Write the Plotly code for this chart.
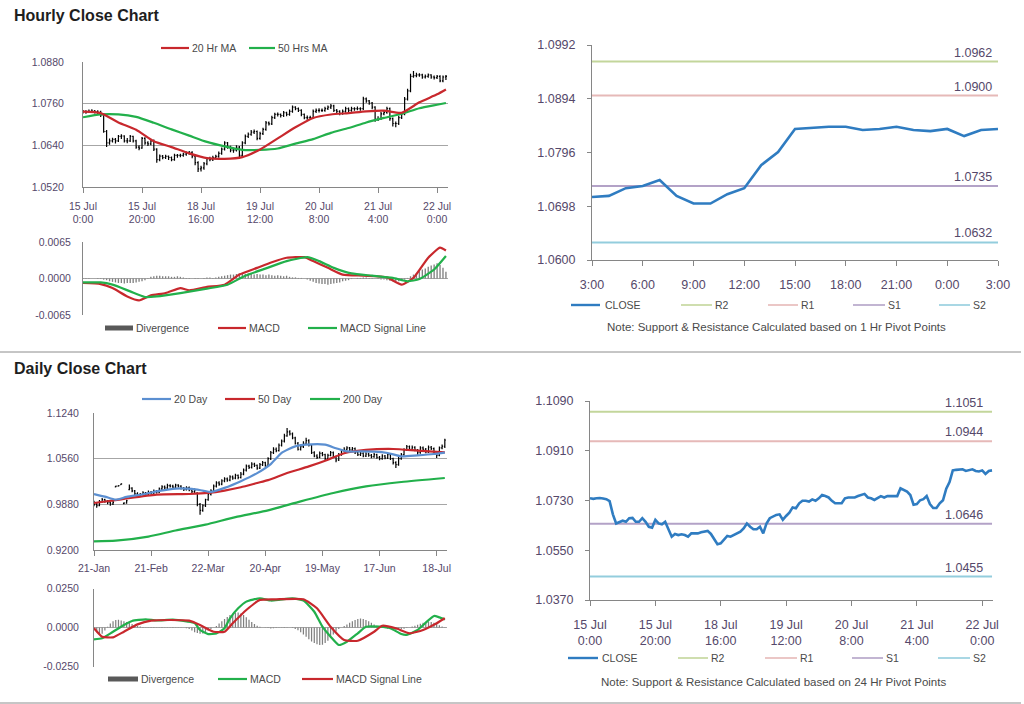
import plotly.graph_objects as go

# ---------------- DATA ----------------
# Hourly bars: 15 Jul 0:00 -> 22 Jul 3:00 (124 hourly bars)
hourly_tick_pos = [0, 20, 40, 60, 80, 100, 120]
hourly_tick_text = ["15 Jul<br>0:00", "15 Jul<br>20:00", "18 Jul<br>16:00", "19 Jul<br>12:00",
                    "20 Jul<br>8:00", "21 Jul<br>4:00", "22 Jul<br>0:00"]

hourly_open = [
    1.0736, 1.0738, 1.0736, 1.0738, 1.0739, 1.0737, 1.0735, 1.0728, 1.0680, 1.0647,
    1.0653, 1.0657, 1.0653, 1.0666, 1.0667, 1.0653, 1.0653, 1.0666, 1.0653, 1.0635,
    1.0632, 1.0660, 1.0647, 1.0644, 1.0653, 1.0629, 1.0599, 1.0609, 1.0605, 1.0608,
    1.0605, 1.0599, 1.0611, 1.0611, 1.0611, 1.0615, 1.0617, 1.0620, 1.0609, 1.0590,
    1.0572, 1.0575, 1.0587, 1.0602, 1.0599, 1.0605, 1.0608, 1.0617, 1.0629, 1.0647,
    1.0635, 1.0626, 1.0626, 1.0635, 1.0611, 1.0647, 1.0666, 1.0672, 1.0678, 1.0680,
    1.0660, 1.0674, 1.0686, 1.0705, 1.0702, 1.0720, 1.0729, 1.0729, 1.0726, 1.0734,
    1.0729, 1.0738, 1.0750, 1.0746, 1.0741, 1.0729, 1.0720, 1.0720, 1.0720, 1.0738,
    1.0741, 1.0741, 1.0741, 1.0746, 1.0750, 1.0754, 1.0741, 1.0738, 1.0732, 1.0738,
    1.0746, 1.0741, 1.0746, 1.0746, 1.0746, 1.0746, 1.0774, 1.0768, 1.0762, 1.0750,
    1.0715, 1.0717, 1.0731, 1.0735, 1.0746, 1.0717, 1.0703, 1.0703, 1.0720, 1.0731,
    1.0773, 1.0797, 1.0839, 1.0841, 1.0843, 1.0843, 1.0837, 1.0839, 1.0843, 1.0837,
    1.0835, 1.0839, 1.0826, 1.0837]
hourly_high = [
    1.0742, 1.0741, 1.0743, 1.0744, 1.0742, 1.0741, 1.0740, 1.0731, 1.0684, 1.0660,
    1.0662, 1.0661, 1.0670, 1.0672, 1.0669, 1.0661, 1.0670, 1.0668, 1.0656, 1.0640,
    1.0664, 1.0663, 1.0652, 1.0658, 1.0657, 1.0632, 1.0614, 1.0612, 1.0613, 1.0611,
    1.0608, 1.0616, 1.0615, 1.0616, 1.0619, 1.0622, 1.0624, 1.0623, 1.0612, 1.0594,
    1.0581, 1.0592, 1.0606, 1.0607, 1.0610, 1.0613, 1.0622, 1.0634, 1.0652, 1.0650,
    1.0639, 1.0633, 1.0640, 1.0638, 1.0652, 1.0671, 1.0677, 1.0684, 1.0686, 1.0683,
    1.0679, 1.0691, 1.0710, 1.0709, 1.0725, 1.0734, 1.0735, 1.0732, 1.0739, 1.0737,
    1.0743, 1.0755, 1.0753, 1.0749, 1.0744, 1.0732, 1.0726, 1.0725, 1.0743, 1.0746,
    1.0747, 1.0746, 1.0751, 1.0755, 1.0759, 1.0757, 1.0745, 1.0741, 1.0743, 1.0751,
    1.0749, 1.0751, 1.0750, 1.0752, 1.0750, 1.0780, 1.0778, 1.0771, 1.0765, 1.0753,
    1.0724, 1.0736, 1.0740, 1.0751, 1.0749, 1.0720, 1.0709, 1.0725, 1.0736, 1.0779,
    1.0803, 1.0846, 1.0854, 1.0849, 1.0848, 1.0846, 1.0844, 1.0847, 1.0845, 1.0841,
    1.0843, 1.0842, 1.0841, 1.0843]
hourly_low = [
    1.0732, 1.0731, 1.0733, 1.0734, 1.0732, 1.0730, 1.0722, 1.0676, 1.0635, 1.0642,
    1.0648, 1.0645, 1.0650, 1.0658, 1.0648, 1.0646, 1.0650, 1.0648, 1.0630, 1.0626,
    1.0630, 1.0642, 1.0638, 1.0640, 1.0624, 1.0590, 1.0594, 1.0600, 1.0601, 1.0598,
    1.0594, 1.0596, 1.0604, 1.0606, 1.0607, 1.0610, 1.0613, 1.0603, 1.0583, 1.0563,
    1.0565, 1.0570, 1.0583, 1.0594, 1.0595, 1.0600, 1.0604, 1.0613, 1.0625, 1.0630,
    1.0620, 1.0619, 1.0622, 1.0606, 1.0608, 1.0643, 1.0661, 1.0668, 1.0673, 1.0655,
    1.0656, 1.0670, 1.0682, 1.0697, 1.0699, 1.0716, 1.0723, 1.0720, 1.0722, 1.0724,
    1.0725, 1.0734, 1.0741, 1.0736, 1.0724, 1.0715, 1.0714, 1.0715, 1.0717, 1.0733,
    1.0735, 1.0736, 1.0737, 1.0742, 1.0745, 1.0736, 1.0733, 1.0727, 1.0728, 1.0734,
    1.0736, 1.0737, 1.0740, 1.0741, 1.0740, 1.0742, 1.0763, 1.0757, 1.0744, 1.0708,
    1.0710, 1.0713, 1.0727, 1.0731, 1.0711, 1.0694, 1.0692, 1.0699, 1.0716, 1.0727,
    1.0769, 1.0793, 1.0835, 1.0836, 1.0838, 1.0832, 1.0833, 1.0835, 1.0832, 1.0830,
    1.0831, 1.0822, 1.0822, 1.0828]
hourly_close = [
    1.0738, 1.0736, 1.0738, 1.0739, 1.0737, 1.0735, 1.0728, 1.0680, 1.0647, 1.0653,
    1.0657, 1.0653, 1.0666, 1.0667, 1.0653, 1.0653, 1.0666, 1.0653, 1.0635, 1.0632,
    1.0660, 1.0647, 1.0644, 1.0653, 1.0629, 1.0599, 1.0609, 1.0605, 1.0608, 1.0605,
    1.0599, 1.0611, 1.0611, 1.0611, 1.0615, 1.0617, 1.0620, 1.0609, 1.0590, 1.0572,
    1.0575, 1.0587, 1.0602, 1.0599, 1.0605, 1.0608, 1.0617, 1.0629, 1.0647, 1.0635,
    1.0626, 1.0626, 1.0635, 1.0611, 1.0647, 1.0666, 1.0672, 1.0678, 1.0680, 1.0660,
    1.0674, 1.0686, 1.0705, 1.0702, 1.0720, 1.0729, 1.0729, 1.0726, 1.0734, 1.0729,
    1.0738, 1.0750, 1.0746, 1.0741, 1.0729, 1.0720, 1.0720, 1.0720, 1.0738, 1.0741,
    1.0741, 1.0741, 1.0746, 1.0750, 1.0754, 1.0741, 1.0738, 1.0732, 1.0738, 1.0746,
    1.0741, 1.0746, 1.0746, 1.0746, 1.0746, 1.0774, 1.0768, 1.0762, 1.0750, 1.0715,
    1.0717, 1.0731, 1.0735, 1.0746, 1.0717, 1.0703, 1.0703, 1.0720, 1.0731, 1.0773,
    1.0797, 1.0839, 1.0841, 1.0843, 1.0843, 1.0837, 1.0839, 1.0843, 1.0837, 1.0835,
    1.0839, 1.0826, 1.0837, 1.0839]

hourly_ma_pos = [0, 6, 12, 18, 24, 30, 36, 42, 48, 54, 60, 66, 72, 78, 84, 90, 96, 102, 108, 114, 120, 123]
hourly_ma20 = [1.0737, 1.0733, 1.0706, 1.0685, 1.0652, 1.0635, 1.0617, 1.0603, 1.0601, 1.0606, 1.0628,
               1.0660, 1.0692, 1.0719, 1.0729, 1.0733, 1.0738, 1.0740, 1.0734, 1.0764, 1.0787, 1.0801]
hourly_ma50 = [1.0721, 1.0729, 1.0729, 1.0722, 1.0705, 1.0686, 1.0668, 1.0650, 1.0637, 1.0627, 1.0627,
               1.0631, 1.0645, 1.0658, 1.0676, 1.0690, 1.0706, 1.0719, 1.0731, 1.0747, 1.0757, 1.0762]

hourly_divergence = [
    -0.0001, -0.0001, -0.0001, 0.0000, 0.0000, -0.0001, -0.0001, -0.0002, -0.0003,
    -0.0005, -0.0006, -0.0007, -0.0008, -0.0008, -0.0009, -0.0008, -0.0008, -0.0008, -0.0007, -0.0006, -0.0005, -0.0003,
    0.0001, 0.0003, 0.0004, 0.0005, 0.0005, 0.0004, 0.0004, 0.0004, 0.0003, 0.0003, 0.0004, 0.0003, 0.0002, 0.0001,
    -0.0001, 0.0000, 0.0001, 0.0001, 0.0000, 0.0001, 0.0002, 0.0002, 0.0001, 0.0002, 0.0003, 0.0004, 0.0005,
    0.0006, 0.0007, 0.0007, 0.0008, 0.0009, 0.0009, 0.0008, 0.0009, 0.0008, 0.0007, 0.0008, 0.0007, 0.0007,
    0.0006, 0.0007, 0.0006, 0.0005, 0.0006, 0.0005, 0.0004, 0.0005, 0.0003, 0.0002, 0.0002,
    0.0001, 0.0001, 0.0000, -0.0002, -0.0004, -0.0006,
    -0.0008, -0.0009, -0.0010, -0.0010, -0.0011, -0.0010, -0.0009, -0.0008, -0.0007, -0.0005, -0.0004, -0.0003,
    -0.0001, 0.0000, 0.0001, 0.0001, 0.0002, 0.0002, 0.0001, 0.0001, 0.0000, -0.0001, -0.0002, -0.0002,
    -0.0003, -0.0004, -0.0005, -0.0006, -0.0005, -0.0004, -0.0002, 0.0001, 0.0004,
    0.0007, 0.0010, 0.0013, 0.0016, 0.0018, 0.0021, 0.0023, 0.0025, 0.0027, 0.0024, 0.0019, 0.0012]
hourly_macd_pos = [0, 6, 10, 15, 19, 23, 28, 33, 36, 42, 48, 53, 59, 64, 69, 75, 78, 83, 88, 95, 103, 108, 112, 117, 121, 123]
hourly_macd = [-0.0008, -0.0010, -0.0017, -0.0032, -0.0039, -0.0030, -0.0026, -0.0017, -0.0021, -0.0015,
               -0.0011, 0.0007, 0.0019, 0.0029, 0.0037, 0.0038, 0.0031, 0.0019, 0.0007, 0.0005,
               0.0002, -0.0011, 0.0001, 0.0037, 0.0055, 0.0050]
hourly_signal_pos = [0, 6, 10, 16, 21, 25, 33, 42, 49, 55, 62, 69, 76, 80, 85, 91, 98, 105, 110, 114, 119, 123]
hourly_signal = [-0.0007, -0.0007, -0.0011, -0.0023, -0.0033, -0.0032, -0.0026, -0.0018, -0.0011, 0.0005,
                 0.0018, 0.0031, 0.0038, 0.0031, 0.0019, 0.0009, 0.0005, 0.0001, -0.0005, -0.0001,
                 0.0016, 0.0040]

# Last 24 hours (1 Hr pivots)
last_day_tick_text = ["3:00", "6:00", "9:00", "12:00", "15:00", "18:00", "21:00", "0:00", "3:00"]
pivot_names = ["R2", "R1", "S1", "S2"]
pivot_colors = ["#c3d69b", "#e6b9b8", "#b3a2c7", "#93cddd"]
hourly_pivots = [1.0962, 1.0900, 1.0735, 1.0632]
daily_pivots = [1.1051, 1.0944, 1.0646, 1.0455]

# Daily bars
daily_tick_pos = [0, 21, 42, 63, 84, 105, 126]
daily_tick_text = ["21-Jan", "21-Feb", "22-Mar", "20-Apr", "19-May", "17-Jun", "18-Jul"]
daily_open = [
    0.9900, 0.9880, 0.9860, 0.9920, 0.9950, 0.9930, 0.9905, 0.9885, 1.0140, 1.0150,
    1.0175, 0.9890, 0.9900, 1.0100, 1.0120, 1.0080, 1.0040, 1.0010, 1.0030, 1.0050,
    1.0020, 1.0060, 1.0045, 1.0075, 1.0060, 1.0110, 1.0140, 1.0125, 1.0160, 1.0150,
    1.0135, 1.0165, 1.0150, 1.0120, 1.0100, 1.0130, 1.0095, 1.0070, 1.0050, 0.9880,
    0.9790, 0.9860, 0.9950, 1.0030, 1.0080, 1.0150, 1.0200, 1.0180, 1.0230, 1.0260,
    1.0240, 1.0290, 1.0270, 1.0310, 1.0280, 1.0330, 1.0390, 1.0450, 1.0430, 1.0480,
    1.0460, 1.0420, 1.0470, 1.0500, 1.0460, 1.0560, 1.0650, 1.0700, 1.0680, 1.0760,
    1.0820, 1.0900, 1.0960, 1.0930, 1.0870, 1.0790, 1.0700, 1.0740, 1.0790, 1.0830,
    1.0760, 1.0650, 1.0600, 1.0580, 1.0640, 1.0620, 1.0560, 1.0610, 1.0650, 1.0590,
    1.0540, 1.0620, 1.0680, 1.0700, 1.0720, 1.0690, 1.0710, 1.0650, 1.0620, 1.0640,
    1.0600, 1.0630, 1.0610, 1.0590, 1.0620, 1.0580, 1.0560, 1.0600, 1.0570, 1.0620,
    1.0560, 1.0500, 1.0470, 1.0560, 1.0620, 1.0690, 1.0740, 1.0700, 1.0730, 1.0690,
    1.0650, 1.0720, 1.0700, 1.0660, 1.0730, 1.0710, 1.0650, 1.0610, 1.0720, 1.0745]
daily_high = [
    0.9935, 0.9900, 0.9945, 0.9975, 0.9965, 0.9945, 0.9920, 0.9930, 1.0155, 1.0165,
    1.0195, 0.9910, 0.9950, 1.0175, 1.0135, 1.0095, 1.0060, 1.0050, 1.0075, 1.0065,
    1.0085, 1.0080, 1.0100, 1.0095, 1.0130, 1.0165, 1.0160, 1.0185, 1.0180, 1.0170,
    1.0185, 1.0180, 1.0165, 1.0140, 1.0150, 1.0145, 1.0110, 1.0115, 1.0060, 0.9900,
    0.9880, 0.9965, 1.0050, 1.0105, 1.0175, 1.0225, 1.0225, 1.0255, 1.0285, 1.0280,
    1.0315, 1.0310, 1.0335, 1.0325, 1.0360, 1.0415, 1.0475, 1.0470, 1.0505, 1.0500,
    1.0475, 1.0495, 1.0525, 1.0515, 1.0580, 1.0675, 1.0730, 1.0725, 1.0785, 1.0845,
    1.0930, 1.1015, 1.0985, 1.0950, 1.0885, 1.0810, 1.0770, 1.0820, 1.0870, 1.0850,
    1.0775, 1.0670, 1.0625, 1.0665, 1.0660, 1.0635, 1.0635, 1.0675, 1.0665, 1.0605,
    1.0645, 1.0705, 1.0730, 1.0745, 1.0735, 1.0735, 1.0725, 1.0670, 1.0665, 1.0655,
    1.0655, 1.0650, 1.0630, 1.0645, 1.0635, 1.0600, 1.0625, 1.0615, 1.0645, 1.0635,
    1.0575, 1.0520, 1.0585, 1.0645, 1.0715, 1.0765, 1.0755, 1.0755, 1.0745, 1.0705,
    1.0745, 1.0740, 1.0720, 1.0755, 1.0750, 1.0725, 1.0670, 1.0740, 1.0770, 1.0855]
daily_low = [
    0.9850, 0.9830, 0.9850, 0.9905, 0.9905, 0.9880, 0.9860, 0.9870, 1.0135, 1.0145,
    1.0170, 0.9880, 0.9890, 1.0090, 1.0060, 1.0020, 0.9990, 0.9995, 1.0015, 1.0000,
    1.0005, 1.0025, 1.0030, 1.0040, 1.0050, 1.0095, 1.0105, 1.0110, 1.0130, 1.0115,
    1.0120, 1.0130, 1.0100, 1.0080, 1.0085, 1.0075, 1.0045, 1.0040, 0.9850, 0.9725,
    0.9770, 0.9840, 0.9935, 1.0010, 1.0065, 1.0130, 1.0155, 1.0165, 1.0210, 1.0215,
    1.0225, 1.0245, 1.0255, 1.0255, 1.0265, 1.0315, 1.0370, 1.0405, 1.0415, 1.0435,
    1.0395, 1.0405, 1.0450, 1.0440, 1.0445, 1.0540, 1.0630, 1.0655, 1.0665, 1.0740,
    1.0800, 1.0885, 1.0905, 1.0850, 1.0770, 1.0680, 1.0680, 1.0720, 1.0770, 1.0740,
    1.0630, 1.0580, 1.0555, 1.0565, 1.0595, 1.0535, 1.0545, 1.0595, 1.0570, 1.0505,
    1.0525, 1.0605, 1.0660, 1.0680, 1.0670, 1.0670, 1.0630, 1.0600, 1.0600, 1.0580,
    1.0585, 1.0590, 1.0565, 1.0575, 1.0560, 1.0535, 1.0545, 1.0550, 1.0555, 1.0540,
    1.0475, 1.0420, 1.0455, 1.0545, 1.0605, 1.0675, 1.0680, 1.0685, 1.0670, 1.0620,
    1.0635, 1.0680, 1.0640, 1.0645, 1.0690, 1.0630, 1.0570, 1.0595, 1.0700, 1.0720]
daily_close = [
    0.9880, 0.9860, 0.9920, 0.9950, 0.9930, 0.9905, 0.9885, 0.9910, 1.0150, 1.0160,
    1.0185, 0.9900, 0.9935, 1.0120, 1.0080, 1.0040, 1.0010, 1.0030, 1.0050, 1.0020,
    1.0060, 1.0045, 1.0075, 1.0060, 1.0110, 1.0140, 1.0125, 1.0160, 1.0150, 1.0135,
    1.0165, 1.0150, 1.0120, 1.0100, 1.0130, 1.0095, 1.0070, 1.0090, 0.9880, 0.9790,
    0.9860, 0.9950, 1.0030, 1.0080, 1.0150, 1.0200, 1.0180, 1.0230, 1.0260, 1.0240,
    1.0290, 1.0270, 1.0310, 1.0280, 1.0330, 1.0390, 1.0450, 1.0430, 1.0480, 1.0460,
    1.0420, 1.0470, 1.0500, 1.0460, 1.0560, 1.0650, 1.0700, 1.0680, 1.0760, 1.0820,
    1.0900, 1.0960, 1.0930, 1.0870, 1.0790, 1.0700, 1.0740, 1.0790, 1.0830, 1.0760,
    1.0650, 1.0600, 1.0580, 1.0640, 1.0620, 1.0560, 1.0610, 1.0650, 1.0590, 1.0540,
    1.0620, 1.0680, 1.0700, 1.0720, 1.0690, 1.0710, 1.0650, 1.0620, 1.0640, 1.0600,
    1.0630, 1.0610, 1.0590, 1.0620, 1.0580, 1.0560, 1.0600, 1.0570, 1.0620, 1.0560,
    1.0500, 1.0470, 1.0560, 1.0620, 1.0690, 1.0740, 1.0700, 1.0730, 1.0690, 1.0650,
    1.0720, 1.0700, 1.0660, 1.0730, 1.0710, 1.0650, 1.0610, 1.0720, 1.0745, 1.0835]

daily_ma20_pos = [0, 4, 8, 12, 18, 24, 30, 36, 40, 43, 48, 54, 60, 65, 69, 74, 78, 85, 89, 93, 98, 103, 108, 113, 119, 125, 129]
daily_ma20 = [1.0034, 0.9995, 0.9950, 0.9990, 1.0030, 1.0080, 1.0115, 1.0110, 1.0085, 1.0065, 1.0125, 1.0225, 1.0345,
              1.0480, 1.0645, 1.0743, 1.0768, 1.0768, 1.0715, 1.0668, 1.0668, 1.0665, 1.0644, 1.0594, 1.0610, 1.0630, 1.0650]
daily_ma50_pos = [0, 10, 23, 35, 42, 48, 54, 60, 64, 71, 79, 86, 92, 100, 110, 119, 129]
daily_ma50 = [0.9900, 0.9955, 1.0024, 1.0034, 1.0050, 1.0085, 1.0135, 1.0198, 1.0240, 1.0346, 1.0445, 1.0545,
              1.0640, 1.0690, 1.0704, 1.0680, 1.0655]
daily_ma200_pos = [0, 8, 20, 30, 41, 52, 64, 76, 88, 100, 113, 129]
daily_ma200 = [0.9329, 0.9339, 0.9400, 0.9490, 0.9577, 0.9690, 0.9790, 0.9924, 1.0049, 1.0147, 1.0213, 1.0272]

daily_divergence = [
    -0.0010, -0.0030, -0.0045, -0.0040, -0.0020,
    0.0005, 0.0025, 0.0040, 0.0048, 0.0050,
    0.0045, 0.0040, 0.0035, 0.0030, 0.0022, 0.0015, 0.0010, 0.0006,
    0.0004, 0.0002, -0.0002, -0.0004, -0.0003, -0.0001, 0.0002, 0.0003, 0.0002, 0.0001, -0.0002, -0.0003,
    -0.0002, -0.0001, 0.0001, 0.0000, -0.0005, -0.0010,
    -0.0020, -0.0030, -0.0036, -0.0040, -0.0038, -0.0030, -0.0020, -0.0010, 0.0000, 0.0010,
    0.0025, 0.0040, 0.0055, 0.0068, 0.0080, 0.0088, 0.0095, 0.0096, 0.0090, 0.0080, 0.0065, 0.0050, 0.0035,
    0.0022, 0.0012,
    0.0005, 0.0000, -0.0002, -0.0004, -0.0006, -0.0005, -0.0003, -0.0001, 0.0002, 0.0003, 0.0002, 0.0000,
    -0.0004, -0.0010, -0.0018,
    -0.0030, -0.0045, -0.0060, -0.0075, -0.0090, -0.0100, -0.0108, -0.0112, -0.0110, -0.0100, -0.0085,
    -0.0065, -0.0045,
    -0.0025, -0.0010, 0.0000, 0.0010, 0.0020, 0.0030, 0.0040,
    0.0048, 0.0055, 0.0058, 0.0055, 0.0048, 0.0040, 0.0030, 0.0020, 0.0012, 0.0005, 0.0000,
    -0.0004, -0.0008, -0.0012, -0.0015, -0.0018, -0.0016, -0.0012, -0.0008, -0.0004,
    0.0000, 0.0006, 0.0012, 0.0018, 0.0024, 0.0030, 0.0035, 0.0038, 0.0036, 0.0030, 0.0022, 0.0014,
    0.0006, -0.0002]
daily_macd_pos = [0, 3, 7, 11, 14, 19, 23, 29, 34, 37, 39, 42, 45, 48, 50, 53, 56, 61, 65, 68, 73, 77, 81, 84,
                  87, 90, 93, 97, 100, 105, 109, 113, 115, 119, 122, 125, 127, 129]
daily_macd = [-0.0076, -0.0069, -0.0027, 0.0016, 0.0042, 0.0052, 0.0045, 0.0050, 0.0039, 0.0029,
              -0.0016, -0.0042, -0.0038, -0.0005, 0.0059, 0.0123, 0.0166, 0.0187, 0.0173, 0.0177,
              0.0187, 0.0173, 0.0101, 0.0005, -0.0059, -0.0112, -0.0091, -0.0037, 0.0005, 0.0005,
              -0.0005, -0.0042, -0.0047, -0.0016, 0.0031, 0.0074, 0.0065, 0.0052]
daily_signal_pos = [0, 3, 7, 11, 16, 21, 28, 35, 39, 44, 48, 51, 56, 61, 67, 77, 82, 87, 92, 97, 103, 106,
                    111, 116, 121, 126, 129]
daily_signal = [-0.0005, -0.0059, -0.0063, -0.0027, 0.0020, 0.0044, 0.0048, 0.0044, 0.0016, -0.0027,
                -0.0027, 0.0027, 0.0112, 0.0177, 0.0181, 0.0181, 0.0123, 0.0005, -0.0080, -0.0085,
                -0.0027, 0.0011, -0.0005, -0.0037, -0.0016, 0.0027, 0.0059]

# ---------------- STYLE / LAYOUT HELPERS ----------------
W, H = 1024, 704
FONT = "Liberation Sans, Arial, sans-serif"
TICKC = "#55486a"
TXTC = "#4a4a4a"
GRID = "#a6a6a6"
AXC = "#868686"
RED = "#c8282d"
GREEN = "#22b04b"
BLUE = "#5b8fd1"
CLOSE_BLUE = "#2f7cc1"
DIVC = "#7f7f7f"


def fx(p):
    return p / W


def fy(p):
    return 1 - p / H


fig = go.Figure()

h_idx = list(range(len(hourly_close)))
d_idx = list(range(len(daily_close)))
n_last = len(last_day_tick_text) * 3 - 2  # 25 hourly points in last 24h panel
last_close = hourly_close[-n_last:]
last_idx = list(range(len(last_close)))

ohlc_style = dict(increasing=dict(line=dict(color="black", width=1.2)),
                  decreasing=dict(line=dict(color="black", width=1.2)),
                  tickwidth=0.35, showlegend=False, hoverinfo="skip")

# Panel 1: hourly OHLC + MAs
fig.add_trace(go.Ohlc(x=h_idx, open=hourly_open, high=hourly_high, low=hourly_low, close=hourly_close,
                      xaxis="x", yaxis="y", **ohlc_style))
fig.add_trace(go.Scatter(x=hourly_ma_pos, y=hourly_ma50, mode="lines", xaxis="x", yaxis="y",
                         line=dict(color=GREEN, width=2.2, shape="spline", smoothing=0.6), showlegend=False))
fig.add_trace(go.Scatter(x=hourly_ma_pos, y=hourly_ma20, mode="lines", xaxis="x", yaxis="y",
                         line=dict(color=RED, width=2.2, shape="spline", smoothing=0.6), showlegend=False))

# Panel 2: hourly MACD
fig.add_trace(go.Bar(x=h_idx, y=hourly_divergence, width=0.45, marker=dict(color=DIVC, line=dict(width=0)),
                     xaxis="x2", yaxis="y2", showlegend=False))
fig.add_trace(go.Scatter(x=hourly_macd_pos, y=hourly_macd, mode="lines", xaxis="x2", yaxis="y2",
                         line=dict(color=RED, width=2.2, shape="spline", smoothing=0.5), showlegend=False))
fig.add_trace(go.Scatter(x=hourly_signal_pos, y=hourly_signal, mode="lines", xaxis="x2", yaxis="y2",
                         line=dict(color=GREEN, width=2.2, shape="spline", smoothing=0.5), showlegend=False))

# Panel 3: last 24h close with 1 Hr pivots
for v, c in zip(hourly_pivots, pivot_colors):
    fig.add_trace(go.Scatter(x=[last_idx[0], last_idx[-1]], y=[v, v], mode="lines", xaxis="x3", yaxis="y3",
                             line=dict(color=c, width=2), showlegend=False))
fig.add_trace(go.Scatter(x=last_idx, y=last_close, mode="lines", xaxis="x3", yaxis="y3",
                         line=dict(color=CLOSE_BLUE, width=2.6), showlegend=False))

# Panel 4: daily OHLC + MAs
fig.add_trace(go.Ohlc(x=d_idx, open=daily_open, high=daily_high, low=daily_low, close=daily_close,
                      xaxis="x4", yaxis="y4", **ohlc_style))
fig.add_trace(go.Scatter(x=daily_ma200_pos, y=daily_ma200, mode="lines", xaxis="x4", yaxis="y4",
                         line=dict(color=GREEN, width=2.2, shape="spline", smoothing=0.6), showlegend=False))
fig.add_trace(go.Scatter(x=daily_ma50_pos, y=daily_ma50, mode="lines", xaxis="x4", yaxis="y4",
                         line=dict(color=RED, width=2.2, shape="spline", smoothing=0.6), showlegend=False))
fig.add_trace(go.Scatter(x=daily_ma20_pos, y=daily_ma20, mode="lines", xaxis="x4", yaxis="y4",
                         line=dict(color=BLUE, width=2.2, shape="spline", smoothing=0.6), showlegend=False))

# Panel 5: daily MACD
fig.add_trace(go.Bar(x=d_idx, y=daily_divergence, width=0.45, marker=dict(color=DIVC, line=dict(width=0)),
                     xaxis="x5", yaxis="y5", showlegend=False))
fig.add_trace(go.Scatter(x=daily_macd_pos, y=daily_macd, mode="lines", xaxis="x5", yaxis="y5",
                         line=dict(color=GREEN, width=2.2, shape="spline", smoothing=0.5), showlegend=False))
fig.add_trace(go.Scatter(x=daily_signal_pos, y=daily_signal, mode="lines", xaxis="x5", yaxis="y5",
                         line=dict(color=RED, width=2.2, shape="spline", smoothing=0.5), showlegend=False))

# Panel 6: hourly close with 24 Hr pivots
for v, c in zip(daily_pivots, pivot_colors):
    fig.add_trace(go.Scatter(x=[h_idx[0], h_idx[-1]], y=[v, v], mode="lines", xaxis="x6", yaxis="y6",
                             line=dict(color=c, width=2), showlegend=False))
fig.add_trace(go.Scatter(x=h_idx, y=hourly_close, mode="lines", xaxis="x6", yaxis="y6",
                         line=dict(color=CLOSE_BLUE, width=2.6), showlegend=False))

# ---------------- AXES ----------------
small_tick = dict(family=FONT, size=10.5, color=TICKC)
big_tick = dict(family=FONT, size=12.5, color=TICKC)


def xa(dom, rng, anchor, **kw):
    d = dict(domain=[fx(dom[0]), fx(dom[1])], range=rng, anchor=anchor, showgrid=False, zeroline=False,
             showline=True, linecolor=AXC, linewidth=1, fixedrange=True, automargin=False,
             rangeslider=dict(visible=False))
    d.update(kw)
    return d


def ya(dom, rng, anchor, **kw):
    d = dict(domain=[fy(dom[1]), fy(dom[0])], range=rng, anchor=anchor, zeroline=False,
             showline=True, linecolor=AXC, linewidth=1, fixedrange=True, automargin=False)
    d.update(kw)
    return d


layout = dict(
    width=W, height=H, autosize=False,
    margin=dict(l=0, r=0, t=0, b=0, pad=0, autoexpand=False),
    paper_bgcolor="white", plot_bgcolor="white", showlegend=False,
    font=dict(family=FONT, color=TXTC), barmode="overlay",
)

# Panel 1
layout["xaxis"] = xa((83, 448), [0, 123.7], "y", tickmode="array", tickvals=hourly_tick_pos,
                     ticktext=hourly_tick_text, ticks="outside", ticklen=5, tickcolor=AXC,
                     tickfont=small_tick, ticklabelstandoff=4)
layout["yaxis"] = ya((62, 187), [1.0520, 1.08802], "x", tickmode="linear", tick0=1.0520, dtick=0.012,
                     tickformat=".4f", showgrid=True, gridcolor=GRID, ticks="", tickfont=small_tick,
                     ticklabelstandoff=16)
# Panel 2
layout["xaxis2"] = xa((83, 448), [0, 123.7], "y2", showticklabels=False, ticks="", showline=False)
layout["yaxis2"] = ya((242, 315), [-0.00651, 0.00651], "x2", tickmode="array",
                      tickvals=[-0.0065, 0, 0.0065], ticktext=["-0.0065", "0.0000", "0.0065"],
                      showgrid=True, gridcolor=GRID, ticks="", tickfont=small_tick, ticklabelstandoff=9)
# Panel 3
layout["xaxis3"] = xa((592, 998), [0, 24], "y3", tickmode="array", tickvals=list(range(0, 25, 3)),
                      ticktext=last_day_tick_text, ticks="outside", ticklen=5, tickcolor=AXC,
                      tickfont=big_tick, ticklabelstandoff=8)
layout["yaxis3"] = ya((45, 260), [1.0600, 1.09921], "x3", tickmode="linear", tick0=1.0600, dtick=0.0098,
                      tickformat=".4f", showgrid=False, ticks="outside", ticklen=4, tickcolor=AXC,
                      tickfont=big_tick, ticklabelstandoff=9)
# Panel 4
layout["xaxis4"] = xa((94, 447), [0, 129.8], "y4", tickmode="array", tickvals=daily_tick_pos,
                      ticktext=daily_tick_text, ticks="outside", ticklen=5, tickcolor=AXC,
                      tickfont=small_tick, ticklabelstandoff=3)
layout["yaxis4"] = ya((413, 550), [0.9200, 1.12402], "x4", tickmode="linear", tick0=0.92, dtick=0.068,
                      tickformat=".4f", showgrid=True, gridcolor=GRID, ticks="", tickfont=small_tick,
                      ticklabelstandoff=12)
# Panel 5
layout["xaxis5"] = xa((94, 447), [0, 129.8], "y5", showticklabels=False, ticks="", showline=False)
layout["yaxis5"] = ya((588.5, 666.5), [-0.02501, 0.02501], "x5", tickmode="array",
                      tickvals=[-0.025, 0, 0.025], ticktext=["-0.0250", "0.0000", "0.0250"],
                      showgrid=True, gridcolor=GRID, ticks="", tickfont=small_tick, ticklabelstandoff=12)
# Panel 6
layout["xaxis6"] = xa((590, 993), [0, 123.3], "y6", tickmode="array", tickvals=hourly_tick_pos,
                      ticktext=hourly_tick_text, ticks="outside", ticklen=5, tickcolor=AXC,
                      tickfont=big_tick, ticklabelstandoff=8)
layout["yaxis6"] = ya((401, 600), [1.0370, 1.10901], "x6", tickmode="linear", tick0=1.037, dtick=0.018,
                      tickformat=".4f", showgrid=False, ticks="outside", ticklen=4, tickcolor=AXC,
                      tickfont=big_tick, ticklabelstandoff=9)

fig.update_layout(**layout)

# ---------------- ANNOTATIONS / LEGENDS ----------------
shapes = []
annos = []


def text(x, y, s, size=10.5, color=TXTC, anchor="left", bold=False):
    annos.append(dict(x=fx(x), y=fy(y), xref="paper", yref="paper", text=("<b>%s</b>" % s) if bold else s,
                      showarrow=False, xanchor=anchor, yanchor="middle",
                      font=dict(family=FONT, size=size, color=color)))


def lline(x0, x1, y, color, width=2.2):
    shapes.append(dict(type="line", xref="paper", yref="paper", x0=fx(x0), x1=fx(x1), y0=fy(y), y1=fy(y),
                       line=dict(color=color, width=width)))


def lbox(x0, x1, y, color):
    shapes.append(dict(type="rect", xref="paper", yref="paper", x0=fx(x0), x1=fx(x1), y0=fy(y + 2.5),
                       y1=fy(y - 2.5), fillcolor=color, line=dict(width=0)))


# Titles
text(12, 16, "Hourly Close Chart", size=16, color="#1e1e1e", bold=True)
text(12, 368, "Daily Close Chart", size=16, color="#1e1e1e", bold=True)

# Separators
shapes.append(dict(type="line", xref="paper", yref="paper", x0=0, x1=fx(1021), y0=fy(352), y1=fy(352),
                   line=dict(color="#8c8c8c", width=1)))
shapes.append(dict(type="line", xref="paper", yref="paper", x0=0, x1=fx(1021), y0=fy(703), y1=fy(703),
                   line=dict(color="#8c8c8c", width=1)))

# Panel 1 legend
lline(161, 189, 48, RED); text(190, 48, "20 Hr MA")
lline(249, 275, 48, GREEN); text(276, 48, "50 Hrs MA")
# Panel 2 legend
lbox(105, 133, 328, "#595959"); text(134, 328, "Divergence")
lline(218, 246, 328, RED); text(247, 328, "MACD")
lline(308, 337, 328, GREEN); text(338, 328, "MACD Signal Line")
# Panel 4 legend
lline(142, 171, 399, BLUE); text(172, 399, "20 Day")
lline(225, 255, 399, RED); text(256, 399, "50 Day")
lline(310, 340, 399, GREEN); text(341, 399, "200 Day")
# Panel 5 legend
lbox(108, 138, 679, "#595959"); text(139, 679, "Divergence")
lline(218, 247, 679, GREEN); text(248, 679, "MACD")
lline(302, 333, 679, RED); text(334, 679, "MACD Signal Line")

# Panel 3 & 6 legends
leg3 = [(571, 600, 603), (681, 712, 713), (768, 798, 799), (853, 885, 886), (939, 970, 971)]
leg6 = [(568, 598, 600), (678, 708, 709), (765, 797, 798), (852, 883, 884), (938, 970, 971)]
names = ["CLOSE"] + pivot_names
cols = [CLOSE_BLUE] + pivot_colors
for (a, b, t), nm, c in zip(leg3, names, cols):
    lline(a, b, 305, c, 2.4 if nm == "CLOSE" else 1.6)
    text(t, 305, nm, size=10.5)
for (a, b, t), nm, c in zip(leg6, names, cols):
    lline(a, b, 658, c, 2.4 if nm == "CLOSE" else 1.6)
    text(t, 658, nm, size=10.5)
text(776, 327, "Note: Support &amp; Resistance Calculated based on 1 Hr Pivot Points", size=11.5, anchor="center")
text(773, 682, "Note: Support &amp; Resistance Calculated based on 24 Hr Pivot Points", size=11.5, anchor="center")

# Pivot value labels
for v in hourly_pivots:
    annos.append(dict(x=fx(994), y=v, xref="paper", yref="y3", text="%.4f" % v, showarrow=False,
                      xanchor="right", yanchor="bottom", yshift=0,
                      font=dict(family=FONT, size=12.5, color=TICKC)))
for v in daily_pivots:
    annos.append(dict(x=fx(985), y=v, xref="paper", yref="y6", text="%.4f" % v, showarrow=False,
                      xanchor="right", yanchor="bottom", yshift=0,
                      font=dict(family=FONT, size=12.5, color=TICKC)))

fig.update_layout(shapes=shapes, annotations=annos)
fig.write_html("out.html", config={"displayModeBar": False, "staticPlot": True},
               post_script="document.body.style.margin='0px';document.body.style.overflow='hidden';")
